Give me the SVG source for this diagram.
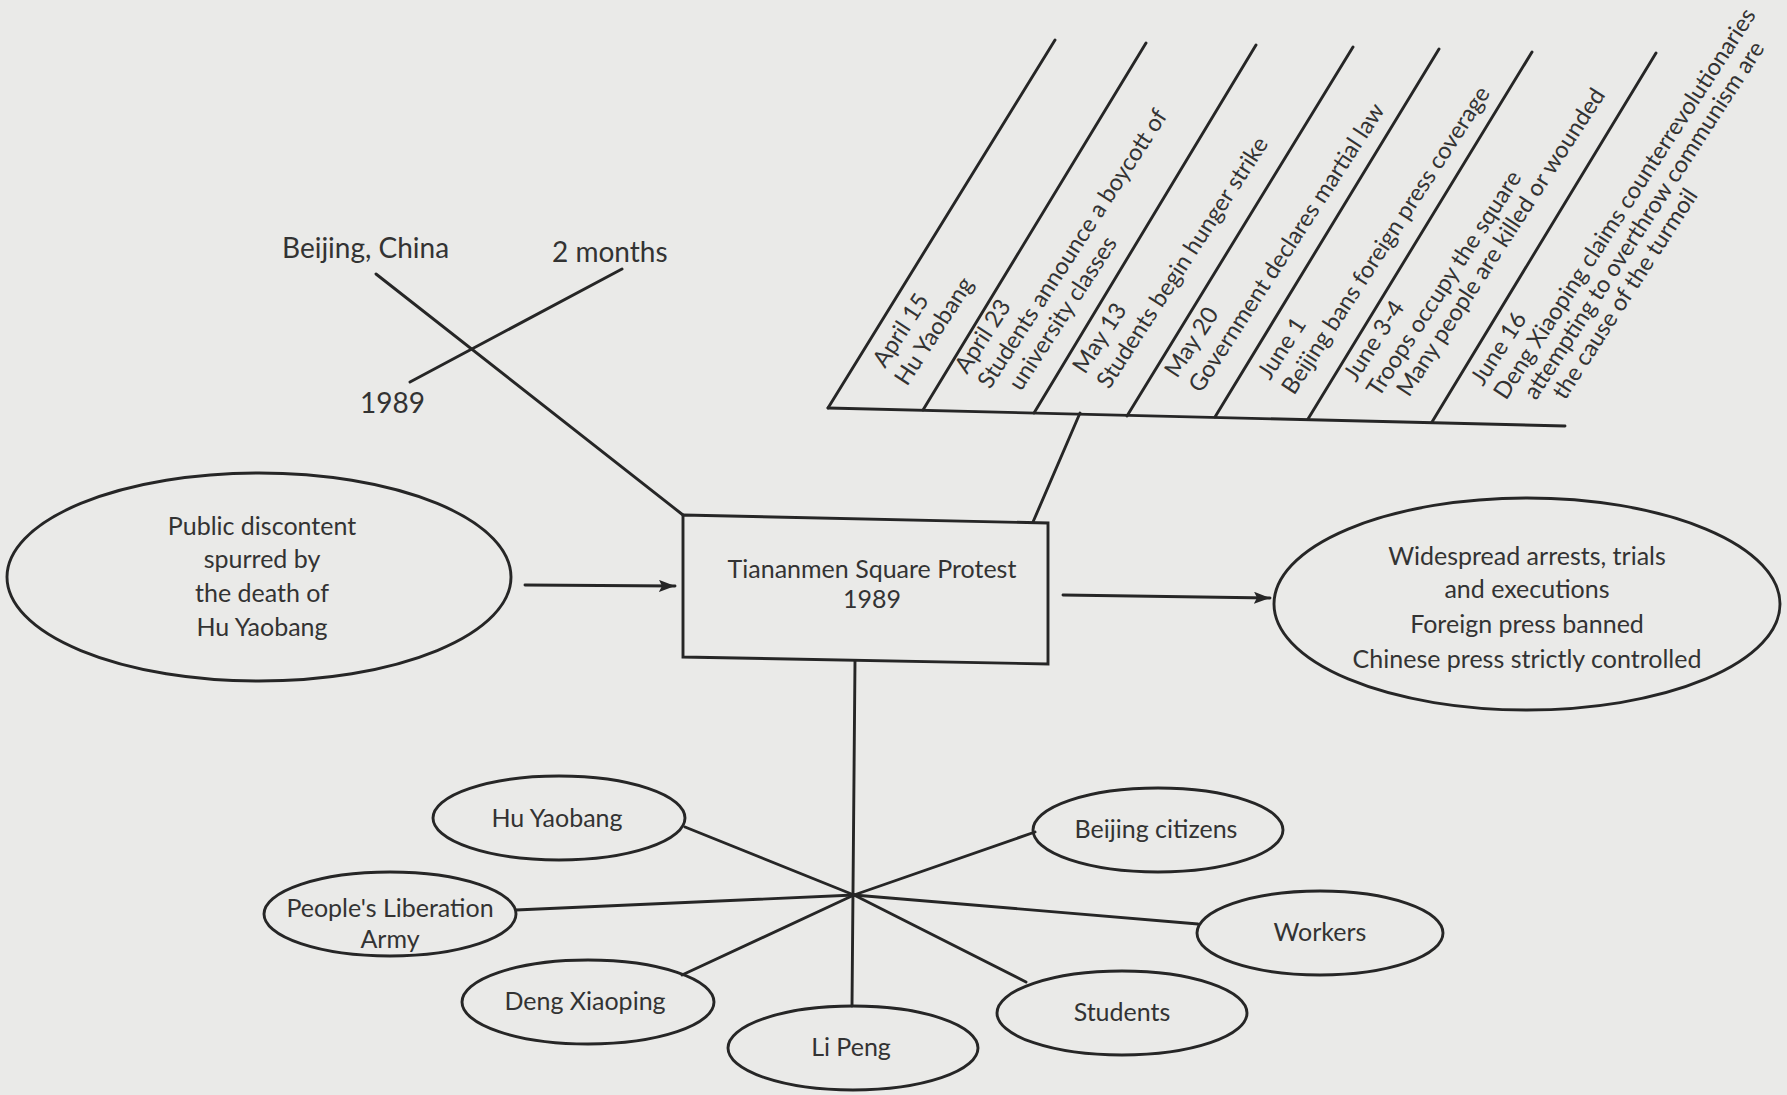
<svg xmlns="http://www.w3.org/2000/svg" width="1787" height="1095" viewBox="0 0 1787 1095">
  <style>
    .ln { stroke: #262626; stroke-width: 2.9; fill: none; stroke-linecap: round; }
    .shape { stroke: #262626; stroke-width: 2.9; fill: none; }
    text { font-family: Lato, "Open Sans", "Liberation Sans", sans-serif; fill: #333333; }
    .t { font-size: 25px; text-anchor: middle; }
    .big { font-size: 28px; }
    .ev { font-size: 23.5px; }
  </style>
  <defs>
    <marker id="arrow" markerUnits="userSpaceOnUse" markerWidth="18" markerHeight="14" refX="16" refY="6" orient="auto">
      <path d="M0,0 L16,6 L0,12 L3,6 z" fill="#262626"/>
    </marker>
  </defs>

  <!-- paper -->
  <rect width="1787" height="1095" fill="#eaeae8"/>

  <!-- connectors -->
  <g id="connectors">
    <!-- who / where / when cross -->
    <line class="ln" x1="376" y1="274" x2="683" y2="515"/>
    <line class="ln" x1="622" y1="269" x2="410" y2="382"/>
    <!-- timeline spine and stem -->
    <line class="ln" x1="828" y1="408" x2="1565" y2="426"/>
    <line class="ln" x1="1080" y1="413" x2="1033" y2="522"/>
    <!-- timeline event ribs -->
    <line class="ln" x1="828" y1="408" x2="1055" y2="40"/>
    <line class="ln" x1="923" y1="410" x2="1146" y2="43"/>
    <line class="ln" x1="1034" y1="413" x2="1256" y2="45"/>
    <line class="ln" x1="1127" y1="416" x2="1353" y2="47"/>
    <line class="ln" x1="1215" y1="417" x2="1439" y2="49"/>
    <line class="ln" x1="1308" y1="419" x2="1532" y2="52"/>
    <line class="ln" x1="1432" y1="422" x2="1656" y2="53"/>
    <!-- cause and effect arrows -->
    <line class="ln" x1="525" y1="585" x2="675" y2="586" marker-end="url(#arrow)"/>
    <line class="ln" x1="1063" y1="595" x2="1270" y2="598" marker-end="url(#arrow)"/>
    <!-- people hub -->
    <line class="ln" x1="855" y1="661" x2="852" y2="1006"/>
    <line class="ln" x1="854" y1="895" x2="685" y2="827"/>
    <line class="ln" x1="854" y1="895" x2="516" y2="910"/>
    <line class="ln" x1="854" y1="895" x2="682" y2="975"/>
    <line class="ln" x1="854" y1="895" x2="1026" y2="982"/>
    <line class="ln" x1="854" y1="895" x2="1035" y2="832"/>
    <line class="ln" x1="854" y1="895" x2="1198" y2="924"/>
  </g>

  <!-- place / date / duration -->
  <g id="facts">
    <text class="big" x="282" y="258">Beijing, China</text>
    <text class="big" x="552" y="262">2 months</text>
    <text class="big" x="360" y="413">1989</text>
  </g>

  <!-- timeline labels -->
  <g id="event-apr15" class="ev">
    <text transform="translate(885,369) rotate(-57)">April 15</text>
    <text transform="translate(907,387) rotate(-57)">Hu Yaobang</text>
  </g>
  <g id="event-apr23" class="ev">
    <text transform="translate(967,375) rotate(-57)">April 23</text>
    <text transform="translate(990,390) rotate(-57)">Students announce a boycott of</text>
    <text transform="translate(1021,392) rotate(-57)">university classes</text>
  </g>
  <g id="event-may13" class="ev">
    <text transform="translate(1085,375) rotate(-57)">May 13</text>
    <text transform="translate(1109,390) rotate(-57)">Students begin hunger strike</text>
  </g>
  <g id="event-may20" class="ev">
    <text transform="translate(1177,379) rotate(-57)">May 20</text>
    <text transform="translate(1201,394) rotate(-57)">Government declares martial law</text>
  </g>
  <g id="event-jun1" class="ev">
    <text transform="translate(1270,381) rotate(-57)">June 1</text>
    <text transform="translate(1294,396) rotate(-57)">Beijing bans foreign press coverage</text>
  </g>
  <g id="event-jun3" class="ev">
    <text transform="translate(1356,383) rotate(-57)">June 3-4</text>
    <text transform="translate(1379,398) rotate(-57)">Troops occupy the square</text>
    <text transform="translate(1409,398) rotate(-57)">Many people are killed or wounded</text>
  </g>
  <g id="event-jun16" class="ev">
    <text transform="translate(1483,387) rotate(-57)">June 16</text>
    <text transform="translate(1506,401) rotate(-57)">Deng Xiaoping claims counterrevolutionaries</text>
    <text transform="translate(1536,401) rotate(-57)">attempting to overthrow communism are</text>
    <text transform="translate(1565,401) rotate(-57)">the cause of the turmoil</text>
  </g>

  <!-- cause -->
  <g id="cause">
    <ellipse class="shape" cx="259" cy="577" rx="252" ry="104"/>
    <text class="t" x="262" y="535">Public discontent</text>
    <text class="t" x="262" y="568">spurred by</text>
    <text class="t" x="262" y="602">the death of</text>
    <text class="t" x="262" y="636">Hu Yaobang</text>
  </g>

  <!-- central event -->
  <g id="event">
    <polygon class="shape" points="683,515 1048,523 1048,664 683,657"/>
    <text class="t" x="872" y="578">Tiananmen Square Protest</text>
    <text class="t" x="872" y="608">1989</text>
  </g>

  <!-- effect -->
  <g id="effect">
    <ellipse class="shape" cx="1527" cy="604" rx="253" ry="106"/>
    <text class="t" x="1527" y="565">Widespread arrests, trials</text>
    <text class="t" x="1527" y="598">and executions</text>
    <text class="t" x="1527" y="633">Foreign press banned</text>
    <text class="t" x="1527" y="668">Chinese press strictly controlled</text>
  </g>

  <!-- people involved -->
  <g id="hu-yaobang">
    <ellipse class="shape" cx="559" cy="818" rx="126" ry="42"/>
    <text class="t" x="557" y="827">Hu Yaobang</text>
  </g>
  <g id="pla">
    <ellipse class="shape" cx="390" cy="914" rx="126" ry="42"/>
    <text class="t" x="390" y="917">People's Liberation</text>
    <text class="t" x="390" y="948">Army</text>
  </g>
  <g id="deng-xiaoping">
    <ellipse class="shape" cx="588" cy="1002" rx="126" ry="42"/>
    <text class="t" x="585" y="1010">Deng Xiaoping</text>
  </g>
  <g id="li-peng">
    <ellipse class="shape" cx="853" cy="1048" rx="125" ry="42"/>
    <text class="t" x="851" y="1056">Li Peng</text>
  </g>
  <g id="students">
    <ellipse class="shape" cx="1122" cy="1013" rx="125" ry="42"/>
    <text class="t" x="1122" y="1021">Students</text>
  </g>
  <g id="beijing-citizens">
    <ellipse class="shape" cx="1158" cy="830" rx="125" ry="42"/>
    <text class="t" x="1156" y="838">Beijing citizens</text>
  </g>
  <g id="workers">
    <ellipse class="shape" cx="1320" cy="933" rx="123" ry="42"/>
    <text class="t" x="1320" y="941">Workers</text>
  </g>
</svg>
